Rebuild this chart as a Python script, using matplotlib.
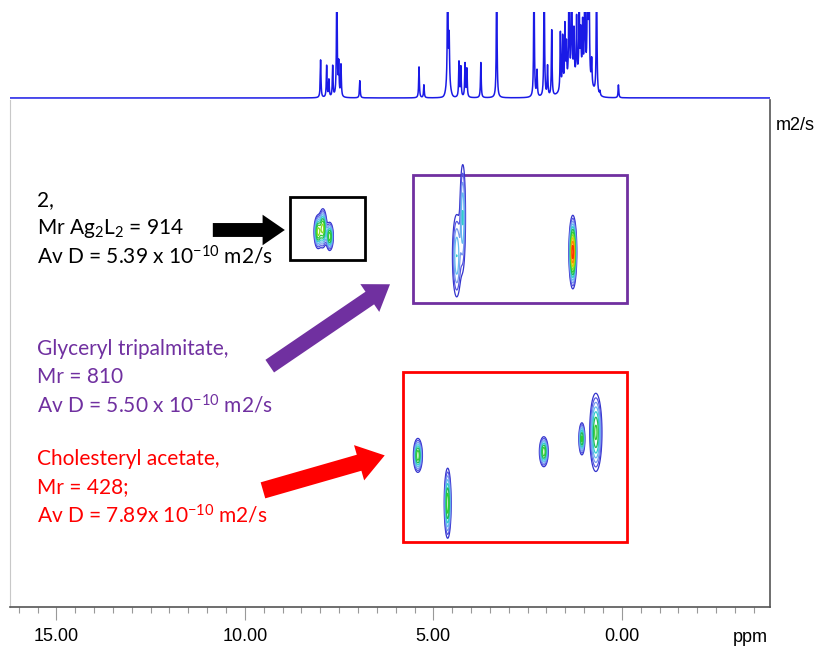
"""
DOSY spectrum of a three-component mixture: 1H projection on top,
diffusion cross peaks below, with labelled boxes and arrows.
"""
import numpy as np
import matplotlib
matplotlib.use("Agg")
import matplotlib.pyplot as plt
from matplotlib import font_manager
from matplotlib.patches import Rectangle, FancyArrowPatch

# --- 1H projection: peak positions (ppm) and heights (1.0 = top of panel)
peak_ppm = [7.99, 7.83, 7.77, 7.67, 7.56, 7.51, 7.45, 6.95,
            5.38, 5.25, 4.62, 4.58, 4.32, 4.27, 4.16, 4.11, 3.74, 3.32,
            2.33, 2.25, 2.06, 1.97, 1.86, 1.63, 1.57, 1.51, 1.47, 1.40,
            1.33, 1.27, 1.20, 1.13, 1.09, 1.04, 0.98, 0.91, 0.87, 0.80,
            0.67, 0.58, 0.09]
peak_height = [0.44, 0.37, 0.20, 0.36, 1.50, 0.37, 0.37, 0.20,
               0.36, 0.15, 1.50, 0.55, 0.41, 0.35, 0.39, 0.33, 0.41, 1.50,
               1.50, 0.30, 1.50, 0.35, 0.77, 0.68, 0.60, 0.70, 0.45, 1.50,
               1.50, 0.55, 0.70, 0.81, 0.50, 0.60, 1.50, 1.50, 1.50, 0.30,
               1.50, 0.05, 0.15]
hump_ppm = [4.60, 1.25, 0.95]
hump_height = [0.14, 0.18, 0.12]
hump_width = [0.05, 0.25, 0.15]

# --- DOSY cross peaks: ppm, D (1e-10 m2/s), widths, intensity
spot_ppm = [8.06, 7.93, 7.75,            # compound 2
            4.38, 4.22, 1.30,            # glyceryl tripalmitate
            5.41, 4.62, 2.07, 1.06, 0.69]  # cholesteryl acetate
spot_D = [5.47, 5.43, 5.52,
          5.73, 5.30, 5.69,
          7.90, 8.42, 7.86, 7.72, 7.65]
spot_wppm = [0.053, 0.053, 0.050,
             0.070, 0.045, 0.047,
             0.061, 0.047, 0.060, 0.042, 0.085]
spot_wD = [0.090, 0.105, 0.078,
           0.275, 0.345, 0.178,
           0.094, 0.194, 0.083, 0.091, 0.222]
spot_amp = [0.6, 0.6, 0.55,
            0.3, 0.3, 1.0,
            0.55, 0.55, 0.55, 0.5, 0.5]

major_ticks = [15, 10, 5, 0]
major_labels = ["15.00", "10.00", "5.00", "0.00"]

W, H = 827, 657
PURPLE = "#7030A0"
RED = "#FF0000"
XLIM = (16.23, -3.93)
DLIM = (9.548, 4.037)

names = {f.name for f in font_manager.fontManager.ttflist}
axis_font = "Liberation Sans Narrow" if "Liberation Sans Narrow" in names else "Liberation Sans"
axis_size = 16 if axis_font == "Liberation Sans Narrow" else 13

plt.rcParams["font.family"] = ["Lato", "DejaVu Sans"]
plt.rcParams["mathtext.fontset"] = "custom"
plt.rcParams["mathtext.rm"] = "Lato"


def px(x, y):
    """Figure pixel position -> figure fraction."""
    return x / W, 1 - y / H


fig = plt.figure(figsize=(W / 100, H / 100), dpi=100)

# main DOSY panel
ax = fig.add_axes([10 / W, 1 - 607 / H, 760 / W, 507 / H])
ax.set_xlim(*XLIM)
ax.set_ylim(*DLIM)

xg = np.linspace(XLIM[1], XLIM[0], 2400)
yg = np.linspace(DLIM[1], DLIM[0], 700)
X, Y = np.meshgrid(xg, yg)
Z = np.zeros_like(X)
for x0, y0, sx, sy, a in zip(spot_ppm, spot_D, spot_wppm, spot_wD, spot_amp):
    Z += a * np.exp(-0.5 * ((X - x0) / sx) ** 2 - 0.5 * ((Y - y0) / sy) ** 2)

levels = [0.08, 0.12, 0.17, 0.23, 0.3, 0.38, 0.47, 0.57, 0.68, 0.8, 0.92]
level_colors = ["#3333CC", "#5555E0", "#7799EE", "#66BBEE", "#33CCCC", "#22BB55",
                "#33CC33", "#88DD22", "#DDCC00", "#FF8800", "#FF3300"]
ax.contour(X, Y, Z, levels=levels, colors=level_colors, linewidths=0.9)

# boxes round each component
ax.add_patch(Rectangle((6.82, 5.09), 1.99, 0.69, fill=False, ec="black", lw=2))
ax.add_patch(Rectangle((-0.13, 4.85), 5.67, 1.39, fill=False, ec=PURPLE, lw=2))
ax.add_patch(Rectangle((-0.13, 6.99), 5.94, 1.85, fill=False, ec=RED, lw=2))

# arrows
for (p0, p1, col, ms) in [((10.85, 5.45), (8.94, 5.45), "black", 10),
                          ((9.34, 6.93), (6.15, 6.04), PURPLE, 11),
                          ((9.52, 8.28), (6.29, 7.90), RED, 12)]:
    ax.add_patch(FancyArrowPatch(
        p0, p1, arrowstyle="simple,head_length=1.6,head_width=2.2,tail_width=1.0",
        mutation_scale=ms, color=col, shrinkA=0, shrinkB=0, lw=0))

ax.spines["top"].set_visible(False)
ax.spines["left"].set_color("#C8C8C8")
ax.spines["right"].set_color("#555555")
ax.spines["bottom"].set_color("#555555")
ax.spines["right"].set_linewidth(1.2)
ax.spines["bottom"].set_linewidth(1.2)
ax.set_yticks([])
ax.set_xticks(major_ticks)
ax.set_xticklabels(major_labels, fontfamily=axis_font, fontsize=axis_size)
ax.set_xticks(np.arange(16.0, -3.6, -0.5), minor=True)
ax.tick_params(axis="x", which="major", length=9, width=0.8, color="#999999", pad=6)
ax.tick_params(axis="x", which="minor", length=4, width=0.8, color="#999999")

fig.text(*px(733, 638), "ppm", fontfamily=axis_font, fontsize=axis_size, va="center")
fig.text(*px(776, 125), "m2/s", fontfamily=axis_font, fontsize=axis_size, va="center")

# 1H projection on top
top = fig.add_axes([10 / W, 1 - 99 / H, 760 / W, 87 / H])
ppm = np.linspace(XLIM[1], XLIM[0], 12000)
spec = np.zeros_like(ppm)
gam = 0.011
for p, h in zip(peak_ppm, peak_height):
    spec += h / (1 + ((ppm - p) / gam) ** 2)
for p, h, w in zip(hump_ppm, hump_height, hump_width):
    spec += h * np.exp(-0.5 * ((ppm - p) / w) ** 2)
top.plot(ppm, spec, color="#1A1AE6", lw=1.1)
top.set_xlim(*XLIM)
top.set_ylim(-0.012, 1.0)
top.axis("off")

# annotations
lines = [
    (200, "2,", "black"),
    (228, r"Mr Ag$\mathregular{_2}$L$\mathregular{_2}$ = 914", "black"),
    (256, r"Av D = 5.39 x 10$\mathregular{^{-10}}$ m2/s", "black"),
    (349, "Glyceryl tripalmitate,", PURPLE),
    (377, "Mr = 810", PURPLE),
    (405, r"Av D = 5.50 x 10$\mathregular{^{-10}}$ m2/s", PURPLE),
    (459, "Cholesteryl acetate,", RED),
    (487, "Mr = 428;", RED),
    (515, r"Av D = 7.89x 10$\mathregular{^{-10}}$ m2/s", RED),
]
for y, s, c in lines:
    fig.text(*px(37, y), s, color=c, fontsize=15, va="center")

fig.savefig("out.png", dpi=100, facecolor="white")
